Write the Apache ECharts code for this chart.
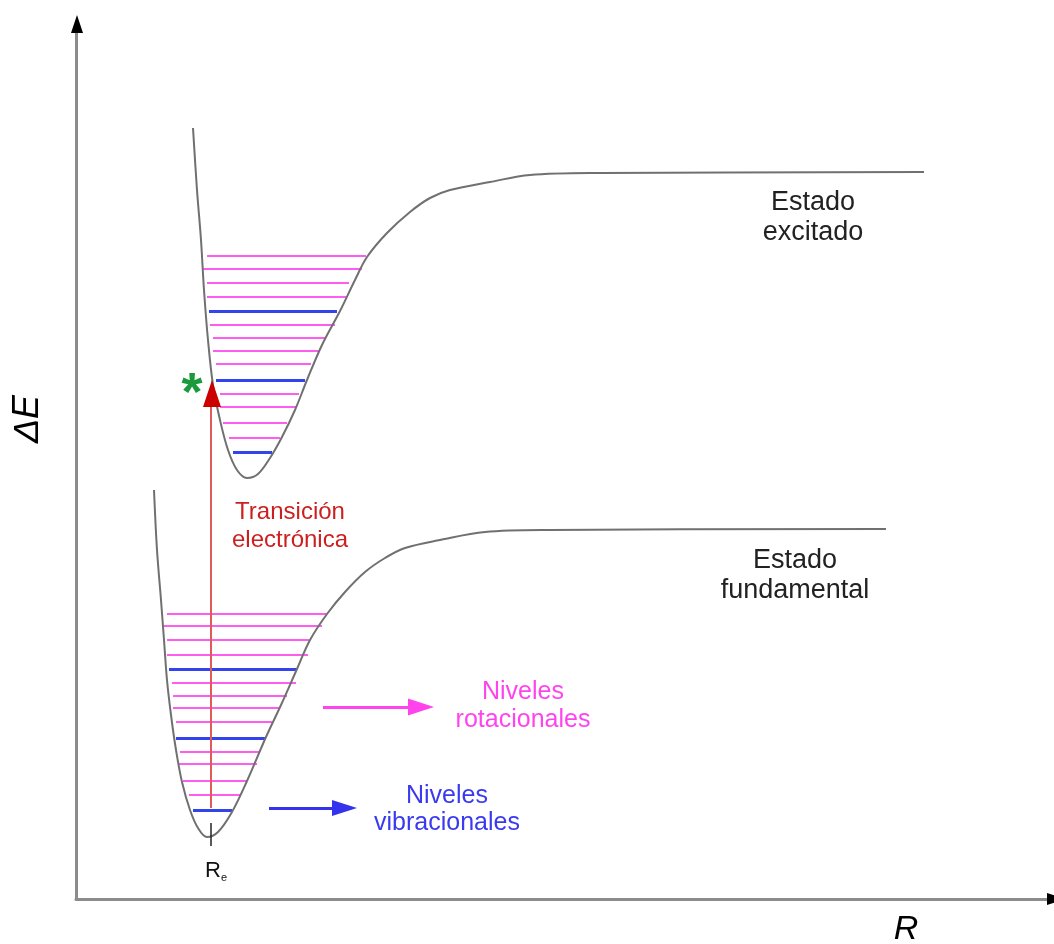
<!DOCTYPE html>
<html><head><meta charset="utf-8">
<script src="https://cdn.jsdelivr.net/npm/echarts@6/dist/echarts.min.js"></script>
<style>html,body{margin:0;padding:0;background:#fff}#c{width:1054px;height:944px}</style>
</head><body><div id="c"></div>
<script>
// Potential energy curves: [R, E] in arbitrary units
const excitedCurve = [[117,771],[121,709],[125,659],[128,609],[132,559],[137,514],[144,479],[152,449],[161,429],[171,421],[182,425],[194,441],[206,462],[219,489],[231,519],[246,554],[264,588],[279,619],[291,642],[311,666],[334,687],[354,701],[374,709],[414,717],[454,724],[524,726],[848,727]];
const groundCurve = [[78,409],[81,349],[85,299],[88,259],[91,219],[95,184],[100,149],[106,117],[114,89],[122,71],[131,62],[142,67],[156,87],[171,118],[190,162],[205,194],[221,230],[234,259],[251,285],[269,307],[289,327],[309,341],[329,351],[364,359],[409,367],[474,369],[810,370]];
// Levels: [E, R start, R end]
const excitedRotLevels = [[643,131,290],[630,127,286],[616,131,273],[602,131,271],[574,134,259],[561,137,250],[548,137,243],[535,140,235],[505,144,223],[492,144,220],[476,147,211],[461,153,204]];
const excitedVibLevels = [[588,133,261],[519,140,229],[447,157,196]];
const groundRotLevels = [[285,91,251],[273,87,246],[259,91,233],[244,91,232],[216,96,220],[203,97,211],[191,97,204],[177,100,196],[147,104,184],[135,103,181],[118,107,171],[104,113,164]];
const groundVibLevels = [[230,93,221],[161,100,190],[89,117,156]];
// Electronic transition: [R, E start, E end]
const transition = [135, 91, 499];
const equilibriumR = 135;
const labels = {
  excited: ['Estado', 'excitado'],
  ground: ['Estado', 'fundamental'],
  transition: ['Transición', 'electrónica'],
  rot: ['Niveles', 'rotacionales'],
  vib: ['Niveles', 'vibracionales']
};

const FONT = "'Liberation Sans', Arial, sans-serif";
const toSeg = L => L.map(l => ({coords: [[l[1], l[0]], [l[2], l[0]]]}));

const chart = echarts.init(document.getElementById('c'), null, {renderer: 'canvas'});

function textPoint(R, E, lines, color, size, lh) {
  return {
    type: 'scatter', symbolSize: 0, silent: true, z: 10,
    itemStyle: {opacity: 1},
    data: [[R, E]],
    label: {show: true, position: 'inside', formatter: lines.join('\n'),
      color: color, fontSize: size, fontFamily: FONT, lineHeight: lh, align: 'center', verticalAlign: 'middle'}
  };
}
function marker(R, E, color, size, rot) {
  return {type: 'scatter', silent: true, z: 6, clip: false, symbol: 'triangle', symbolSize: size, symbolRotate: rot || 0,
    itemStyle: {color: color, opacity: 1}, data: [[R, E]]};
}

const option = {
  animation: false,
  backgroundColor: '#ffffff',
  grid: {left: 76, right: 0, top: 24, bottom: 45, containLabel: false},
  xAxis: {type: 'value', min: 0, max: 978,
    axisLine: {show: true, lineStyle: {color: '#8c8c8c', width: 3}},
    axisTick: {show: false}, axisLabel: {show: false}, splitLine: {show: false}},
  yAxis: {type: 'value', min: 0, max: 875,
    axisLine: {show: true, lineStyle: {color: '#8c8c8c', width: 3}},
    axisTick: {show: false}, axisLabel: {show: false}, splitLine: {show: false}},
  graphic: [
    {type: 'text', x: 28, y: 419, rotation: Math.PI / 2,
      style: {text: 'ΔE', fontSize: 36, fontStyle: 'italic', fontFamily: FONT, fill: '#000', align: 'center', verticalAlign: 'middle'}},
    {type: 'text', x: 906, y: 930,
      style: {text: 'R', fontSize: 34, fontStyle: 'italic', fontFamily: FONT, fill: '#000', align: 'center', verticalAlign: 'middle'}}
  ],
  series: [
    {type: 'lines', coordinateSystem: 'cartesian2d', silent: true, z: 2,
      lineStyle: {color: '#ff5cf0', width: 2, opacity: 1}, data: toSeg(excitedRotLevels.concat(groundRotLevels))},
    {type: 'lines', coordinateSystem: 'cartesian2d', silent: true, z: 3,
      lineStyle: {color: '#3344ee', width: 3, opacity: 1}, data: toSeg(excitedVibLevels.concat(groundVibLevels))},
    {type: 'line', data: excitedCurve, smooth: 0.35, showSymbol: false, silent: true, z: 4,
      lineStyle: {color: '#707070', width: 2}},
    {type: 'line', data: groundCurve, smooth: 0.35, showSymbol: false, silent: true, z: 4,
      lineStyle: {color: '#707070', width: 2}},
    // transition arrow
    {type: 'lines', coordinateSystem: 'cartesian2d', silent: true, z: 5,
      lineStyle: {color: '#e05a5a', width: 2, opacity: 1},
      data: [{coords: [[transition[0], transition[1]], [transition[0], transition[2]]]}]},
    marker(transition[0] + 1, transition[2] + 6.5, '#cc0000', [18, 27]),
    // R_e tick
    {type: 'lines', coordinateSystem: 'cartesian2d', silent: true, z: 5,
      lineStyle: {color: '#222', width: 1.5, opacity: 1},
      data: [{coords: [[equilibriumR, 76], [equilibriumR, 53]]}]},
    // legend arrows
    {type: 'lines', coordinateSystem: 'cartesian2d', silent: true, z: 5,
      lineStyle: {color: '#ff44ee', width: 3, opacity: 1}, data: [{coords: [[247, 192], [336, 192]]}]},
    {type: 'lines', coordinateSystem: 'cartesian2d', silent: true, z: 5,
      lineStyle: {color: '#3333ee', width: 3, opacity: 1}, data: [{coords: [[193, 91], [260, 91]]}]},
    marker(345, 192, '#ff44ee', [17, 26], -90),
    marker(268.5, 91, '#3333ee', [16, 25], -90),
    // axis arrowheads
    marker(1, 875, '#000', [12, 18]),
    marker(980, 0, '#000', [12, 18], -90),
    // labels
    textPoint(737, 681.5, labels.excited, '#222222', 27, 30),
    textPoint(719, 323, labels.ground, '#222222', 27, 30),
    textPoint(214, 373, labels.transition, '#cc1f1f', 24, 28),
    textPoint(447, 193, labels.rot, '#ff44ee', 25, 28),
    textPoint(371, 89, labels.vib, '#3a3aee', 25, 27),
    {type: 'scatter', symbolSize: 0, silent: true, z: 10, itemStyle: {opacity: 1}, data: [[116, 516]],
      label: {show: true, position: 'inside', formatter: '*', color: '#1a9a3a', fontSize: 54, fontWeight: 'bold', fontFamily: FONT,
        align: 'center', verticalAlign: 'middle', offset: [0, 12]}},
    {type: 'scatter', symbolSize: 0, silent: true, z: 10, itemStyle: {opacity: 1}, data: [[140, 28]],
      label: {show: true, position: 'inside', formatter: '{r|R}{s|e}',
        rich: {r: {fontSize: 22, fontFamily: FONT, color: '#111'}, s: {fontSize: 11, fontFamily: FONT, color: '#111', padding: [14, 0, 0, 0]}}}}
  ]
};
chart.setOption(option);
</script></body></html>
